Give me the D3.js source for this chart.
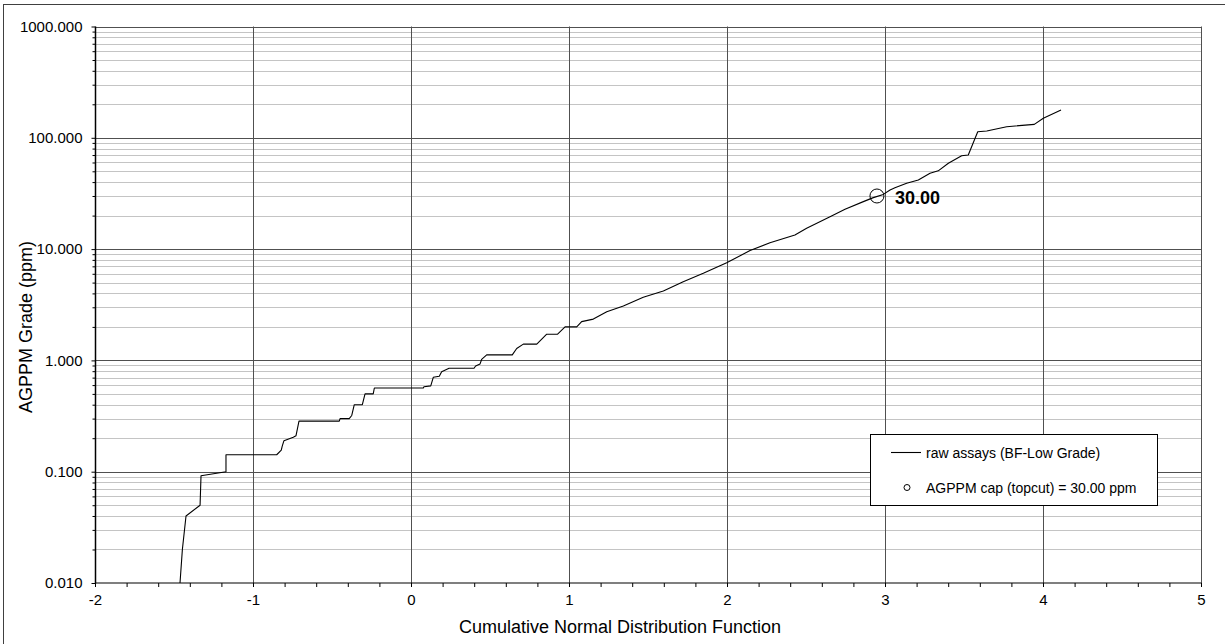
<!DOCTYPE html>
<html>
<head>
<meta charset="utf-8">
<script src="https://cdn.jsdelivr.net/npm/d3@7"></script>
<style>
  html, body { margin: 0; padding: 0; background: #fff; }
  svg { display: block; font-family: "Liberation Sans", Arial, sans-serif; }
</style>
</head>
<body>
<svg id="chart" width="1225" height="644"></svg>
<script>
// ---- data ----
const cdfX = [-1.462, -1.447, -1.424, -1.335, -1.329, -1.171, -1.171, -0.850, -0.821, -0.815, -0.804,
  -0.745, -0.728, -0.709, -0.454, -0.449, -0.391, -0.375, -0.359, -0.308, -0.291, -0.239, -0.232,
  0.078, 0.082, 0.125, 0.141, 0.179, 0.194, 0.241, 0.399, 0.409, 0.437, 0.447, 0.479, 0.641, 0.669,
  0.711, 0.796, 0.859, 0.928, 0.975, 1.049, 1.080, 1.154, 1.239, 1.344, 1.470, 1.597, 1.723, 1.850,
  1.998, 2.146, 2.272, 2.430, 2.504, 2.652, 2.747, 2.863, 2.926, 2.989, 3.032, 3.063, 3.137, 3.211,
  3.285, 3.337, 3.401, 3.485, 3.527, 3.587, 3.644, 3.770, 3.945, 4.002, 4.114];
const grade = [0.010, 0.020, 0.040, 0.050, 0.092, 0.100, 0.142, 0.142, 0.156, 0.170, 0.190,
  0.204, 0.210, 0.285, 0.285, 0.300, 0.300, 0.320, 0.400, 0.400, 0.500, 0.500, 0.565,
  0.565, 0.580, 0.590, 0.705, 0.720, 0.790, 0.850, 0.850, 0.890, 0.930, 1.020, 1.120, 1.120, 1.280,
  1.400, 1.400, 1.720, 1.720, 2.000, 2.000, 2.230, 2.350, 2.740, 3.080, 3.690, 4.200, 5.100, 6.060,
  7.550, 9.700, 11.40, 13.40, 15.40, 19.50, 22.80, 26.70, 29.00, 31.00, 34.00, 35.50, 39.00, 41.80,
  48.00, 50.50, 59.00, 69.00, 70.00, 113.5, 115.0, 125.8, 132.0, 150.0, 178.0];
const capX = [2.949];
const capGrade = [30.00];
const capLabel = "30.00";
const xTickValues = [-2, -1, 0, 1, 2, 3, 4, 5];
const yTickValues = [0.01, 0.1, 1, 10, 100, 1000];
const xTitle = "Cumulative Normal Distribution Function";
const yTitle = "AGPPM Grade (ppm)";
const legendLabels = ["raw assays (BF-Low Grade)", "AGPPM cap (topcut) = 30.00 ppm"];

// ---- layout ----
const svg = d3.select("#chart");
const L = 95, R = 1201, T = 26.5, B = 583;
const x = d3.scaleLinear().domain([-2, 5]).range([L, R]);
const y = d3.scaleLog().domain([0.01, 1000]).range([B, T]);

// outer frame
svg.append("rect").attr("x", 3.5).attr("y", 4.5).attr("width", 1230).attr("height", 650)
  .attr("fill", "#fff").attr("stroke", "#404040").attr("stroke-width", 1);

// minor y values
const yMinor = [];
for (let e = -2; e < 3; e++) for (let m = 2; m <= 9; m++) yMinor.push(m * Math.pow(10, e));
const xMinor = d3.range(-2, 5.001, 0.2).map(v => +v.toFixed(1));

const g = svg.append("g");
// minor horizontal gridlines
g.selectAll("line.minor").data(yMinor).join("line")
  .attr("x1", L).attr("x2", R)
  .attr("y1", d => Math.round(y(d)) + 0.5).attr("y2", d => Math.round(y(d)) + 0.5)
  .attr("stroke", "#c4c4c4").attr("stroke-width", 1);
// major horizontal gridlines
g.selectAll("line.majy").data(yTickValues.slice(1)).join("line")
  .attr("x1", L).attr("x2", R)
  .attr("y1", d => Math.round(y(d)) + 0.5).attr("y2", d => Math.round(y(d)) + 0.5)
  .attr("stroke", "#505050").attr("stroke-width", 1);
// major vertical gridlines
g.selectAll("line.majx").data(xTickValues.slice(1)).join("line")
  .attr("y1", T).attr("y2", B)
  .attr("x1", d => Math.round(x(d)) + 0.5).attr("x2", d => Math.round(x(d)) + 0.5)
  .attr("stroke", "#505050").attr("stroke-width", 1);

// axes
const yAxis = d3.axisLeft(y).tickValues(yTickValues).tickSize(4).tickPadding(9)
  .tickFormat(d3.format(".3f"));
const yAxisMinor = d3.axisLeft(y).tickValues(yMinor).tickSize(3).tickFormat("");
const xAxis = d3.axisBottom(x).tickValues(xTickValues).tickSize(4).tickPadding(7)
  .tickFormat(d => String(d));
const xAxisMinor = d3.axisBottom(x).tickValues(xMinor).tickSize(4).tickFormat("");

function styleAxis(sel) {
  sel.select(".domain").remove();
  sel.selectAll("line").attr("stroke", "#000");
  sel.selectAll("text").attr("fill", "#000").style("font-size", "15px")
    .style("font-family", "'Liberation Sans', Arial, sans-serif");
}
svg.append("g").attr("transform", `translate(${L + 0.5},0)`).call(yAxisMinor).call(styleAxis);
svg.append("g").attr("transform", `translate(${L + 0.5},0)`).call(yAxis).call(styleAxis);
svg.append("g").attr("transform", `translate(0,${B})`).call(xAxisMinor).call(styleAxis);
svg.append("g").attr("transform", `translate(0,${B})`).call(xAxis).call(styleAxis);

// axis lines
svg.append("line").attr("x1", L + 0.5).attr("x2", L + 0.5).attr("y1", T).attr("y2", B + 0.5)
  .attr("stroke", "#000").attr("stroke-width", 1.5);
svg.append("line").attr("x1", L).attr("x2", R + 0.5).attr("y1", B).attr("y2", B)
  .attr("stroke", "#000").attr("stroke-width", 1.2);

// data line
const line = d3.line().x((d, i) => x(cdfX[i])).y((d, i) => y(grade[i]));
svg.append("path").datum(grade).attr("d", line)
  .attr("fill", "none").attr("stroke", "#000").attr("stroke-width", 1.1)
  .attr("stroke-linejoin", "round");

// cap marker
svg.selectAll("circle.cap").data(capGrade).join("circle")
  .attr("cx", (d, i) => x(capX[i])).attr("cy", d => y(d)).attr("r", 7)
  .attr("fill", "none").attr("stroke", "#000").attr("stroke-width", 1);
svg.selectAll("text.cap").data(capGrade).join("text")
  .attr("x", (d, i) => x(capX[i]) + 18).attr("y", d => y(d) + 8)
  .style("font-size", "18px").style("font-weight", "bold").attr("fill", "#000")
  .text(capLabel);

// axis titles
svg.append("text").attr("x", 620).attr("y", 633).attr("text-anchor", "middle")
  .style("font-size", "18px").attr("fill", "#000").text(xTitle);
svg.append("text").attr("transform", "translate(32,327) rotate(-90)").attr("text-anchor", "middle")
  .style("font-size", "18px").attr("fill", "#000").text(yTitle);

// legend
const lg = svg.append("g");
lg.append("rect").attr("x", 870.5).attr("y", 434.5).attr("width", 287).attr("height", 71)
  .attr("fill", "#fff").attr("stroke", "#000").attr("stroke-width", 1);
lg.append("line").attr("x1", 891).attr("x2", 921).attr("y1", 452.5).attr("y2", 452.5)
  .attr("stroke", "#000").attr("stroke-width", 1.1);
lg.append("text").attr("x", 926).attr("y", 457.5).style("font-size", "14px").attr("fill", "#000")
  .text(legendLabels[0]);
lg.append("circle").attr("cx", 907).attr("cy", 487.5).attr("r", 3)
  .attr("fill", "none").attr("stroke", "#000").attr("stroke-width", 1);
lg.append("text").attr("x", 926).attr("y", 493).style("font-size", "14px").attr("fill", "#000")
  .text(legendLabels[1]);
</script>
</body>
</html>
